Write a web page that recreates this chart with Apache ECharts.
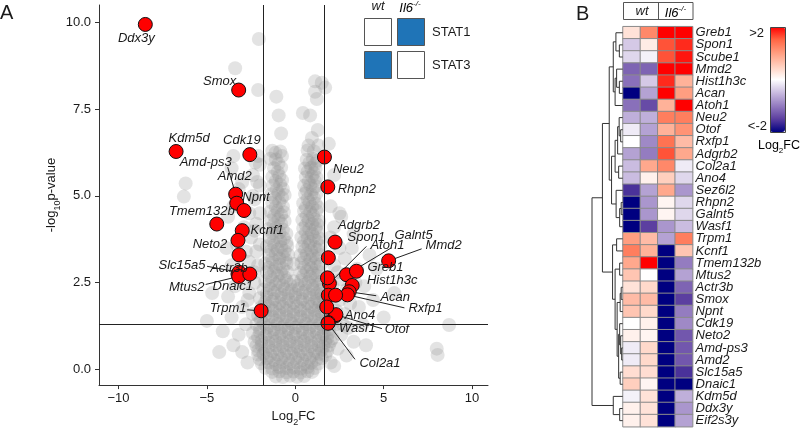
<!DOCTYPE html>
<html><head><meta charset="utf-8">
<script src="https://cdn.jsdelivr.net/npm/echarts@6/dist/echarts.min.js"></script>
<style>html,body{margin:0;padding:0;background:#fff}#c{width:800px;height:432px}</style>
</head><body><div id="c"></div>
<script>
// ---------- DATA ----------
const xTicks = [-10, -5, 0, 5, 10];
const yTicks = [0, 2.5, 5, 7.5, 10];
const fcThresholds = [-1.8, 1.65];
const pThreshold = 1.3;

// background (non-significant) genes [log2FC, -log10 p]
const bgPoints = [
[-1.1,-0.2],[-0.7,-0.22],[-0.3,-0.18],[0.1,-0.21],[0.5,-0.19],
[-1.7,0.05],[-1.3,0.03],[-0.9,0.07],[-0.5,0.04],[-0.1,0.06],[0.3,0.03],[0.7,0.07],[1.1,0.04],
[-2.0,0.3],[-1.6,0.32],[-1.2,0.28],[-0.8,0.31],[-0.4,0.29],[0.0,0.32],[0.4,0.28],[0.8,0.31],[1.2,0.29],[1.5,0.32],
[-2.1,0.55],[-1.7,0.57],[-1.3,0.53],[-0.9,0.56],[-0.5,0.54],[-0.1,0.57],[0.3,0.53],[0.7,0.56],[1.1,0.54],[1.5,0.57],[1.8,0.53],
[-2.3,0.8],[-1.9,0.82],[-1.5,0.78],[-1.1,0.81],[-0.7,0.79],[-0.3,0.82],[0.1,0.78],[0.5,0.81],[0.9,0.79],[1.3,0.82],[1.7,0.78],[2.0,0.81],
[-2.4,1.05],[-2.0,1.07],[-1.6,1.03],[-1.2,1.06],[-0.8,1.04],[-0.4,1.07],[0.0,1.03],[0.4,1.06],[0.8,1.04],[1.2,1.07],[1.6,1.03],[1.9,1.06],
[-2.2,1.3],[-1.8,1.32],[-1.4,1.28],[-1.0,1.31],[-0.6,1.29],[-0.2,1.32],[0.2,1.28],[0.6,1.31],[1.0,1.29],[1.4,1.32],[1.8,1.28],[2.1,1.31],
[-2.1,1.55],[-1.7,1.57],[-1.3,1.53],[-0.9,1.56],[-0.5,1.54],[-0.1,1.57],[0.3,1.53],[0.7,1.56],[1.1,1.54],[1.5,1.57],[1.9,1.53],
[-1.9,1.8],[-1.5,1.82],[-1.1,1.78],[-0.7,1.81],[-0.3,1.79],[0.1,1.82],[0.5,1.78],[0.9,1.81],[1.3,1.79],[1.6,1.82],
[-2.0,2.05],[-1.6,2.07],[-1.2,2.03],[-0.8,2.06],[-0.4,2.04],[0.0,2.07],[0.4,2.03],[0.8,2.06],[1.2,2.04],[1.55,2.07],
[-1.8,2.3],[-1.4,2.32],[-1.0,2.28],[-0.6,2.31],[-0.2,2.29],[0.2,2.32],[0.6,2.28],[1.0,2.31],[1.4,2.29],
[-1.7,2.55],[-1.3,2.57],[-0.9,2.53],[-0.5,2.56],[-0.1,2.54],[0.35,2.57],[0.75,2.53],[1.15,2.56],[1.5,2.54],
[-1.6,2.8],[-1.2,2.82],[-0.8,2.78],[-0.45,2.81],[0.3,2.79],[0.65,2.82],[1.0,2.78],[1.35,2.81],
[-1.7,3.05],[-1.3,3.07],[-0.9,3.03],[-0.5,3.06],[-0.1,3.04],[0.35,3.07],[0.75,3.03],[1.1,3.06],[1.45,3.04],
[-1.5,3.3],[-1.1,3.32],[-0.7,3.28],[-0.4,3.31],[0.3,3.29],[0.65,3.32],[1.0,3.28],[1.35,3.31],
[-1.6,3.55],[-1.2,3.57],[-0.8,3.53],[-0.45,3.56],[0.4,3.54],[0.75,3.57],[1.1,3.53],[1.4,3.56],
[-1.45,3.8],[-1.05,3.82],[-0.65,3.78],[0.35,3.81],[0.7,3.79],[1.05,3.82],[1.35,3.78],
[-1.5,4.05],[-1.1,4.07],[-0.7,4.03],[0.45,4.06],[0.8,4.04],[1.15,4.07],
[-1.35,4.3],[-0.95,4.32],[-0.6,4.28],[0.4,4.31],[0.75,4.29],[1.1,4.32],[1.35,4.28],
[-1.4,4.55],[-1.0,4.57],[-0.65,4.53],[0.5,4.56],[0.85,4.54],[1.2,4.57],
[-1.3,4.8],[-0.9,4.82],[0.45,4.79],[0.8,4.81],[1.15,4.78],
[-1.35,5.05],[-0.95,5.07],[-0.6,5.03],[0.55,5.06],[0.9,5.04],[1.2,5.07],
[-1.25,5.3],[-0.85,5.32],[0.5,5.29],[0.85,5.31],[1.15,5.28],
[-1.3,5.55],[-0.9,5.57],[0.6,5.54],[0.95,5.56],[1.2,5.53],
[-1.2,5.8],[-0.8,5.82],[0.55,5.79],[0.9,5.81],[1.15,5.78],
[-1.1,6.05],[0.65,6.04],[1.0,6.07],[1.25,6.02],
[-1.3,6.3],[-0.85,6.28],[0.7,6.31],[1.05,6.29],
[-1.3,-0.07],[-0.9,-0.05],[-0.5,-0.08],[-0.1,-0.06],[0.3,-0.09],[0.7,-0.05],[0.95,-0.07],
[-1.9,0.18],[-1.5,0.2],[-1.1,0.16],[-0.7,0.19],[-0.3,0.17],[0.1,0.2],[0.5,0.16],[0.9,0.19],[1.3,0.17],
[-2.1,0.43],[-1.8,0.45],[-1.4,0.41],[-1.0,0.44],[-0.6,0.42],[-0.2,0.45],[0.2,0.41],[0.6,0.44],[1.0,0.42],[1.35,0.45],[1.7,0.41],
[-2.2,0.68],[-1.9,0.7],[-1.5,0.66],[-1.1,0.69],[-0.7,0.67],[-0.3,0.7],[0.1,0.66],[0.5,0.69],[0.9,0.67],[1.3,0.7],[1.6,0.66],[1.9,0.69],
[-2.1,0.93],[-1.7,0.95],[-1.3,0.91],[-0.9,0.94],[-0.5,0.92],[-0.1,0.95],[0.3,0.91],[0.7,0.94],[1.1,0.92],[1.5,0.95],[1.8,0.91],
[-2.0,1.18],[-1.6,1.2],[-1.2,1.16],[-0.8,1.19],[-0.4,1.17],[0.0,1.2],[0.4,1.16],[0.8,1.19],[1.2,1.17],[1.6,1.2],[1.9,1.16],
[-1.95,1.43],[-1.5,1.45],[-1.1,1.41],[-0.7,1.44],[-0.3,1.42],[0.1,1.45],[0.5,1.41],[0.9,1.44],[1.3,1.42],[1.7,1.45],
[-1.7,1.68],[-1.3,1.7],[-0.9,1.66],[-0.5,1.69],[-0.1,1.67],[0.3,1.7],[0.7,1.66],[1.1,1.69],[1.45,1.67],
[-1.7,1.93],[-1.3,1.95],[-0.9,1.91],[-0.5,1.94],[-0.1,1.92],[0.3,1.95],[0.7,1.91],[1.1,1.94],[1.4,1.92],
[-1.6,2.18],[-1.2,2.2],[-0.8,2.16],[-0.4,2.19],[0.0,2.17],[0.4,2.2],[0.8,2.16],[1.2,2.19],[1.5,2.17],
[-1.5,2.43],[-1.1,2.45],[-0.7,2.41],[-0.3,2.44],[0.15,2.42],[0.55,2.45],[0.95,2.41],[1.3,2.44],
[-1.4,2.68],[-1.0,2.7],[-0.6,2.66],[0.45,2.69],[0.85,2.67],[1.2,2.7],
[-1.5,2.93],[-1.1,2.95],[-0.7,2.91],[0.5,2.94],[0.9,2.92],[1.25,2.95],
[-1.3,3.18],[-0.9,3.2],[-0.55,3.16],[0.5,3.19],[0.85,3.17],[1.2,3.2],
[-1.35,3.43],[-1.0,3.45],[-0.6,3.41],[0.55,3.44],[0.9,3.42],[1.25,3.45],
[-1.25,3.68],[-0.85,3.7],[-0.5,3.66],[0.5,3.69],[0.85,3.67],[1.2,3.7],
[-1.3,3.93],[-0.9,3.95],[-0.5,3.91],[0.6,3.94],[0.95,3.92],[1.3,3.95],
[-1.2,4.18],[-0.8,4.2],[0.6,4.16],[0.95,4.19],[1.25,4.17],
[-1.2,4.43],[-0.8,4.45],[0.65,4.41],[1.0,4.44],
[-1.1,4.68],[-0.7,4.7],[0.6,4.66],[0.95,4.69],[1.3,4.67],
[-1.15,4.93],[-0.75,4.95],[0.7,4.91],[1.05,4.94],
[-1.05,5.18],[-0.7,5.2],[0.65,5.16],[1.0,5.19],
[-1.1,5.43],[-0.75,5.45],[0.75,5.41],[1.1,5.44],
[-1.0,5.68],[0.7,5.7],[1.05,5.66],
[-0.95,5.93],[0.8,5.95],[1.1,5.91],
[-1.07,7.86],[-0.94,7.32],[-0.8,6.8],[-1.12,6.24],[-1.4,6.07],[-0.75,6.15],
[1.12,8.3],[1.5,8.26],[1.12,8.0],[1.69,8.12],[1.22,7.79],[0.43,7.39],[0.84,7.32],[1.27,6.9],[0.94,6.67],[0.75,6.45],[1.31,6.45],
[-2.3,2.8],[-2.6,3.1],[-2.2,3.4],[-2.5,3.8],[-2.2,4.2],[-2.6,4.5],[-2.3,4.9],[-2.0,5.3],[-2.4,5.6],[-2.0,5.9],
[-2.6,2.2],[-3.0,1.8],[-2.8,1.3],[-3.2,1.0],[-3.5,0.7],[-3.0,0.5],[-2.7,0.2],[-3.6,1.5],[-3.8,2.1],[-3.4,2.4],
[-3.6,3.0],[-3.9,3.5],[-3.8,4.4],[-4.1,1.1],[-4.3,0.5],[-2.9,2.5],[-3.3,3.6],[-2.9,4.1],[-3.0,5.4],[-3.6,5.8],
[-3.5,6.15],[-2.1,6.15],[-2.25,5.96],[-2.15,5.4],[-6.2,5.36],[-6.3,4.98],[-3.4,8.68],[-2.1,8.05],[-2.06,9.52],[-4.7,2.2],[-5.0,1.4],
[-2.4,1.6],[-2.7,2.0],[-2.3,2.5],[-2.1,3.0],[-2.0,3.6],[-2.3,4.0],[-2.0,4.5],[-2.4,5.0],[-2.8,3.4],[-3.5,4.7],[-3.2,5.2],
[2.2,0.1],[2.4,0.6],[2.6,1.0],[2.3,1.3],[2.8,1.6],[2.5,2.0],[2.9,2.3],[2.4,2.8],[2.8,3.2],[3.2,3.5],
[2.5,3.5],[2.2,4.1],[2.6,4.4],[2.0,4.7],[3.0,1.2],[3.3,0.8],[3.6,1.8],[3.9,2.4],[3.5,2.9],[4.2,3.3],
[4.4,2.0],[3.8,1.3],[4.0,0.7],[2.9,0.4],[3.3,3.9],[2.2,5.6],[1.9,6.5],[2.5,4.5],
[8.0,0.6],[8.05,0.42],[8.7,1.28],[5.0,1.5],[5.6,2.2],[4.6,2.9],
[2.0,0.2],[2.1,0.9],[2.3,1.7],[2.1,2.4],[2.2,3.0],[2.0,3.8],[2.6,2.6],[3.4,2.5],[3.1,1.9],[2.7,1.3]
];

// significant genes
const sigNames = ['Ddx3y','Smox','Kdm5d','Cdk19','Amd-ps3','Amd2','Npnt','Tmem132b','Kcnf1','Neto2','',
  'Actr3b','Slc15a5','Mtus2','Dnaic1','Trpm1',
  'Neu2','Rhpn2','Adgrb2','Spon1','Atoh1','Galnt5','Greb1','Hist1h3c','Acan','Rxfp1','Mmd2',
  'Ano4','Otof','Wasf1','Col2a1','','','',''];
const sigX = [-8.48,-3.2,-6.74,-2.57,-3.37,-3.31,-2.9,-4.44,-3.0,-3.24,-3.18,
  -3.24,-3.18,-3.2,-2.57,-1.93,
  1.65,1.84,2.25,1.87,1.93,2.9,3.46,3.22,3.05,2.95,5.28,
  2.25,2.3,1.87,1.85,1.82,1.87,2.28,1.78];
const sigY = [9.94,8.05,6.28,6.19,5.05,4.79,4.58,4.19,4.0,3.72,3.3,
  2.75,2.8,2.68,2.75,1.69,
  6.12,5.26,3.67,3.22,2.48,2.73,2.83,2.42,2.24,2.15,3.13,
  1.54,1.58,1.35,1.33,2.64,2.14,2.14,1.8];

// heatmap
const heatGenes = ['Greb1','Spon1','Scube1','Mmd2','Hist1h3c','Acan','Atoh1','Neu2','Otof','Rxfp1','Adgrb2',
  'Col2a1','Ano4','Sez6l2','Rhpn2','Galnt5','Wasf1','Trpm1','Kcnf1','Tmem132b','Mtus2','Actr3b','Smox',
  'Npnt','Cdk19','Neto2','Amd-ps3','Amd2','Slc15a5','Dnaic1','Kdm5d','Ddx3y','Eif2s3y'];
const heatCols = ['wt-1','wt-2','Il6-1','Il6-2'];
const wt1 = [0.3,-0.4,-0.3,-1.2,-1.1,-2,-1.1,-0.6,-0.15,0,-0.7,-0.5,-0.5,-1.6,-2,-2,-2,1.0,1.3,0.9,0.6,0.3,0.7,0.6,0,0.15,-0.15,-0.15,0.35,0.5,-0.1,0.15,0.15];
const wt2 = [1.2,0.2,-0.1,-1.2,-0.4,-0.7,-1.4,-0.6,-0.7,-0.9,-1.0,0.9,0.15,-0.7,-0.8,-0.8,-1.5,0.7,0.8,2,0,0.4,0.7,0.4,0.15,0.1,0.4,0.4,0.35,0.1,0.3,0.3,0.3];
const ko1 = [2,1.6,1.6,2,1.8,2,0.8,1.3,0.8,1.4,1.6,1.2,0.5,0.9,0.1,0.1,-0.8,-0.7,-2,-2,-2,-2,-2,-2,-2,-2,-2,-2,-2,-2,-2,-2,-2];
const ko2 = [2,1.8,1.9,2,0.8,1.0,2,1.3,1.1,0.7,0.9,-0.15,-0.3,-0.8,-0.3,-0.3,-0.5,1.3,0.6,-1.0,-0.7,-1.2,-1.5,-1.0,-0.9,-1.3,-1.3,-1.3,-1.6,-2,-0.6,-0.8,-0.7];

// dendrogram merges: [childA, childB, height]; child >=0 is a row index, negative is -(merge index + 1)
const dendroMerges = [
 [1,2,3.3],[0,-1,6.7],[4,5,3.3],[3,-3,6],[-4,6,7.5],[-2,-5,9.3],
 [8,9,2],[7,-7,3.5],[-8,10,5],[11,12,4],[-9,-10,7.5],
 [14,15,1.5],[-12,16,3],[13,-13,6.5],[-11,-14,11],[-6,-15,13.3],
 [17,18,6],[19,20,3],[21,22,1.5],[-19,23,2.5],[26,27,1],[25,-21,2],[24,-22,3],
 [28,29,2.5],[-23,-24,4],[-20,-25,5.5],[-18,-26,7.5],[-17,-27,10],[-16,-28,20],
 [31,32,3],[30,-30,9.3],[-29,-31,30.3]
];

// ---------- LAYOUT / STYLE ----------
const FONT = '"Liberation Sans", Arial, sans-serif';
const TXT = '#1a1a1a';
const heatPalette = ['#000080','#5c3fa0','#947cc0','#cabce0','#ffffff','#ffcfbe','#ff9e81','#ff6846','#ff0000'];
// label offsets (px) from the point; line = start of leader line (px from point)
const labelLayout = {
 'Ddx3y':{dx:-9,dy:14}, 'Smox':{dx:-19,dy:-9}, 'Kdm5d':{dx:13,dy:-13}, 'Cdk19':{dx:-8,dy:-14},
 'Amd-ps3':{dx:-30,dy:-32,line:[-8,-27]}, 'Amd2':{dx:-2,dy:-27}, 'Npnt':{dx:12,dy:-13},
 'Tmem132b':{dx:-15,dy:-13}, 'Kcnf1':{dx:25,dy:0}, 'Neto2':{dx:-28,dy:4},
 'Actr3b':{dx:-9,dy:-6}, 'Slc15a5':{dx:-57,dy:-7,line:[-32,-6]}, 'Mtus2':{dx:-52,dy:11,line:[-33,8]},
 'Dnaic1':{dx:-17,dy:12}, 'Trpm1':{dx:-33,dy:-2,line:[-14,-1]},
 'Neu2':{dx:24,dy:12}, 'Rhpn2':{dx:29,dy:2}, 'Adgrb2':{dx:24,dy:-17}, 'Spon1':{dx:38,dy:-20},
 'Atoh1':{dx:58,dy:-38,line:[37,-37]}, 'Galnt5':{dx:67,dy:-39,line:[45,-27]},
 'Greb1':{dx:29,dy:-4}, 'Hist1h3c':{dx:40,dy:-5}, 'Acan':{dx:46,dy:6,line:[27,4]},
 'Rxfp1':{dx:78,dy:14,line:[57,13]}, 'Mmd2':{dx:55,dy:-15,line:[33,-12]},
 'Ano4':{dx:25,dy:-1}, 'Otof':{dx:61,dy:15,line:[46,14]}, 'Wasf1':{dx:29,dy:6},
 'Col2a1':{dx:52,dy:40,line:[27,36]}
};

// ---------- BUILD ----------
const sigData = sigX.map((x,i)=>[x, sigY[i], i]);
const labelData = sigData.filter(d => sigNames[d[2]] !== '');
const lineData = labelData.filter(d => labelLayout[sigNames[d[2]]].line);

const heatData = [];
[wt1, wt2, ko1, ko2].forEach((col, ci) => col.forEach((v, ri) => heatData.push([ci, ri, v])));

const nodeY = [], nodeH = [];
const dendroSegs = dendroMerges.map((m, i) => {
  const get = c => c >= 0 ? [c, 0] : [nodeY[-c-1], nodeH[-c-1]];
  const a = get(m[0]), b = get(m[1]);
  nodeY[i] = (a[0] + b[0]) / 2; nodeH[i] = m[2];
  return [m[2], a[0], a[1], b[0], b[1]];
});

const subRich = {
  a:{fontSize:13, fontFamily:FONT, color:TXT, verticalAlign:'top', lineHeight:15},
  b:{fontSize:9, fontFamily:FONT, color:TXT, verticalAlign:'top', padding:[8,0,0,0]}
};
const supRich = {
  a:{fontSize:13, fontFamily:FONT, fontStyle:'italic', color:TXT, verticalAlign:'bottom', lineHeight:15},
  b:{fontSize:8, fontFamily:FONT, fontStyle:'italic', color:TXT, verticalAlign:'bottom', padding:[0,0,7,0]}
};
const minus = v => String(v).replace('-', '\u2212');

const chart = echarts.init(document.getElementById('c'));
chart.setOption({
  animation:false,
  backgroundColor:'#fff',
  textStyle:{fontFamily:FONT},
  grid:[
    {left:99, top:5, width:389, height:390},
    {left:623, top:26.7, width:69.6, height:400},
    {left:592, top:26.7, width:30.7, height:400}
  ],
  xAxis:[
    {type:'value', gridIndex:0, min:-11.1, max:10.9,
     name:'{a|Log}{b|2}{a|FC}', nameLocation:'middle', nameGap:20,
     nameTextStyle:{rich:subRich},
     axisLine:{show:true, onZero:false, lineStyle:{color:'#333'}},
     axisTick:{show:true, length:4, customValues:xTicks, lineStyle:{color:'#333'}},
     axisLabel:{customValues:xTicks, margin:7, fontSize:13, color:TXT, formatter:minus},
     splitLine:{show:false}},
    {type:'category', gridIndex:1, data:heatCols, show:false},
    {type:'value', gridIndex:2, min:0, max:30.3, inverse:true, show:false}
  ],
  yAxis:[
    {type:'value', gridIndex:0, min:-0.45, max:10.5,
     name:'{a|-log}{b|10}{a|p-value}', nameLocation:'middle', nameGap:33, nameRotate:90,
     nameTextStyle:{rich:subRich},
     axisLine:{show:true, onZero:false, lineStyle:{color:'#333'}},
     axisTick:{show:true, length:4, customValues:yTicks, lineStyle:{color:'#333'}},
     axisLabel:{customValues:yTicks, margin:8, fontSize:13, color:TXT, formatter:v => minus(v.toFixed(1))},
     splitLine:{show:false}},
    {type:'category', gridIndex:1, data:heatGenes, inverse:true, position:'right',
     axisLine:{show:false}, axisTick:{show:false},
     axisLabel:{interval:0, margin:3, fontSize:13, fontStyle:'italic', color:TXT, fontFamily:FONT}},
    {type:'value', gridIndex:2, min:-0.5, max:32.5, inverse:true, show:false}
  ],
  visualMap:{
    type:'continuous', seriesIndex:4, min:-2, max:2, calculable:false, orient:'vertical',
    left:770, top:27, itemWidth:15, itemHeight:105, padding:0, hoverLink:false,
    inRange:{color:heatPalette}
  },
  series:[
    {type:'scatter', xAxisIndex:0, yAxisIndex:0, data:bgPoints, symbolSize:14, z:2, silent:true,
     itemStyle:{color:'rgba(150,150,150,0.33)'},
     markLine:{silent:true, symbol:['none','none'], label:{show:false}, animation:false,
       lineStyle:{color:'#222', type:'solid', width:1},
       data:[{xAxis:fcThresholds[0]},{xAxis:fcThresholds[1]},{yAxis:pThreshold}]}},
    {type:'custom', xAxisIndex:0, yAxisIndex:0, data:lineData, z:3, silent:true,
     renderItem:(params, api) => {
       const p = api.coord([api.value(0), api.value(1)]);
       const L = labelLayout[sigNames[api.value(2)]].line;
       return {type:'line', shape:{x1:p[0]+L[0], y1:p[1]+L[1], x2:p[0], y2:p[1]},
               style:{stroke:'#222', lineWidth:1}};
     }},
    {type:'scatter', xAxisIndex:0, yAxisIndex:0, data:sigData, symbolSize:14, z:4, silent:true,
     itemStyle:{color:'#ff0000', borderColor:'#111', borderWidth:1, opacity:1}},
    {type:'custom', xAxisIndex:0, yAxisIndex:0, data:labelData, z:5, silent:true,
     renderItem:(params, api) => {
       const p = api.coord([api.value(0), api.value(1)]);
       const name = sigNames[api.value(2)];
       const o = labelLayout[name];
       return {type:'text', x:p[0]+o.dx, y:p[1]+o.dy,
               style:{text:name, font:'italic 13px '+FONT, fill:TXT, align:'center', verticalAlign:'middle'}};
     }},
    {type:'heatmap', xAxisIndex:1, yAxisIndex:1, data:heatData, silent:true,
     itemStyle:{borderColor:'#8a8a8a', borderWidth:1}},
    {type:'custom', xAxisIndex:2, yAxisIndex:2, data:dendroSegs, silent:true,
     renderItem:(params, api) => {
       const h = api.value(0), ya = api.value(1), ha = api.value(2), yb = api.value(3), hb = api.value(4);
       const pts = [api.coord([ha, ya]), api.coord([h, ya]), api.coord([h, yb]), api.coord([hb, yb])];
       return {type:'polyline', shape:{points:pts}, style:{stroke:'#333', lineWidth:1, fill:null}};
     }}
  ],
  graphic:[
    {type:'text', x:0, y:13, style:{text:'A', font:'20px '+FONT, fill:TXT, textVerticalAlign:'middle'}},
    {type:'text', x:576, y:14, style:{text:'B', font:'20px '+FONT, fill:TXT, textVerticalAlign:'middle'}},
    // volcano legend
    {type:'text', x:378, y:6, style:{text:'wt', font:'italic 13px '+FONT, fill:TXT, textAlign:'center', textVerticalAlign:'middle'}},
    {type:'text', x:410, y:7, style:{text:'{a|Il6}{b|-/-}', rich:supRich, textAlign:'center', textVerticalAlign:'middle'}},
    {type:'rect', shape:{x:364.5, y:18.5, width:27, height:27}, style:{fill:'#fff', stroke:'#555', lineWidth:1}},
    {type:'rect', shape:{x:397.5, y:18.5, width:27, height:27}, style:{fill:'#1f74b7', stroke:'#555', lineWidth:1}},
    {type:'rect', shape:{x:364.5, y:51.5, width:27, height:27}, style:{fill:'#1f74b7', stroke:'#555', lineWidth:1}},
    {type:'rect', shape:{x:397.5, y:51.5, width:27, height:27}, style:{fill:'#fff', stroke:'#555', lineWidth:1}},
    {type:'text', x:432, y:32, style:{text:'STAT1', font:'13px '+FONT, fill:TXT, textVerticalAlign:'middle'}},
    {type:'text', x:432, y:65, style:{text:'STAT3', font:'13px '+FONT, fill:TXT, textVerticalAlign:'middle'}},
    // heatmap header
    {type:'rect', shape:{x:623.5, y:2.5, width:69.5, height:17}, style:{fill:'none', stroke:'#555', lineWidth:1}},
    {type:'line', shape:{x1:658.5, y1:2.5, x2:658.5, y2:19.5}, style:{stroke:'#555', lineWidth:1}},
    {type:'text', x:642, y:11.5, style:{text:'wt', font:'italic 13px '+FONT, fill:TXT, textAlign:'center', textVerticalAlign:'middle'}},
    {type:'text', x:675.5, y:12, style:{text:'{a|Il6}{b|-/-}', rich:supRich, textAlign:'center', textVerticalAlign:'middle'}},
    // colorbar texts
    {type:'rect', shape:{x:770.5, y:27.5, width:15, height:105}, style:{fill:'none', stroke:'#444', lineWidth:1}, z:100},
    {type:'text', x:764, y:33, style:{text:'>2', font:'13px '+FONT, fill:TXT, textAlign:'right', textVerticalAlign:'middle'}},
    {type:'text', x:767, y:126, style:{text:'<-2', font:'13px '+FONT, fill:TXT, textAlign:'right', textVerticalAlign:'middle'}},
    {type:'text', x:758, y:147, style:{text:'{a|Log}{b|2}{a|FC}', rich:{
        a:{fontSize:12.5, fontFamily:FONT, color:TXT, verticalAlign:'top', lineHeight:15},
        b:{fontSize:8, fontFamily:FONT, color:TXT, verticalAlign:'top', padding:[8,0,0,0]}},
      textAlign:'left', textVerticalAlign:'middle'}}
  ]
});
</script></body></html>
